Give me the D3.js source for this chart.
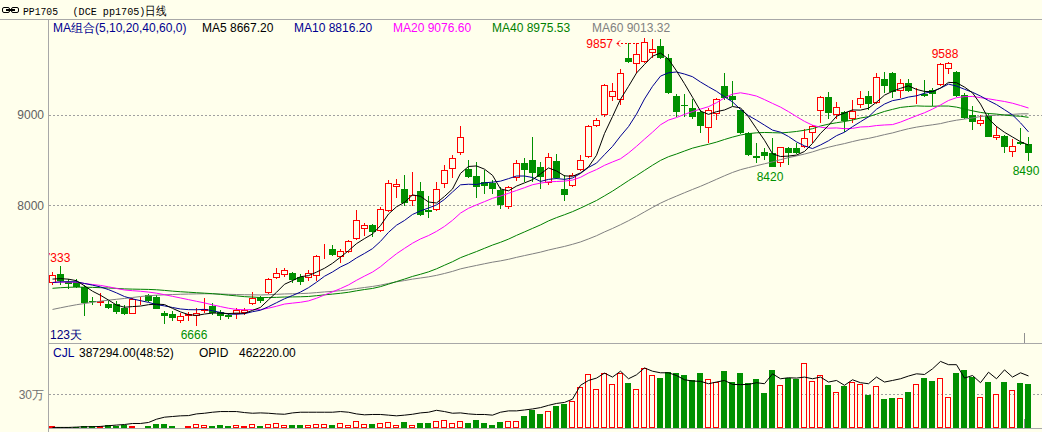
<!DOCTYPE html>
<html><head><meta charset="utf-8">
<script src="https://cdn.jsdelivr.net/npm/d3@7/dist/d3.min.js"></script>
<style>
html,body{margin:0;padding:0;background:#FFFFEC;}
svg{display:block;}
</style>
</head><body>
<svg id="chart" width="1042" height="432"></svg>
<script>
// ---------------- DATA ----------------
const opens = [7134,7240,7153,7156,7097,6941,6922,6910,6910,6866,6800,6949,7004,6986,6810,6800,6718,6773,6773,6829,
6885,6821,6782,6800,6810,6910,6986,7027,7194,7231,7245,7209,7194,7216,7487,7517,7431,7480,7629,7740,
7777,7713,7937,8204,8186,8048,8156,7952,7952,8231,8398,8576,8401,8323,8260,8242,8167,7981,8298,8465,
8502,8427,8242,8490,8175,8212,8390,8532,8873,8996,9196,9163,9628,9561,9591,9691,9765,9635,9215,9115,
9078,9029,8855,9011,9319,9207,9052,8799,8546,8594,8583,8465,8632,8632,8650,8799,9040,9200,9003,9029,
8955,9115,9215,9134,9394,9460,9263,9349,9207,9237,9282,9327,9505,9475,9226,9003,8903,8992,8743,8769,
8594,8706,8680];
const highs = [7264,7333,7186,7186,7120,6986,7030,6941,6941,6893,6978,6986,7015,7004,6829,6829,6810,6818,6866,6978,
6922,6837,6810,6866,6866,7041,6997,7194,7301,7305,7264,7238,7283,7454,7573,7565,7517,7617,7944,7807,
7796,7981,8279,8287,8335,8371,8253,8100,8253,8446,8557,8873,8502,8483,8390,8279,8204,8212,8502,8521,
8761,8483,8576,8568,8335,8353,8557,8892,8966,9346,9349,9513,9795,9795,9857,9840,9840,9672,9237,9237,
9178,9059,9078,9190,9468,9375,9059,8817,8688,8632,8744,8650,8643,8688,8844,8892,9215,9252,9141,9040,
9163,9263,9263,9460,9475,9475,9401,9394,9301,9386,9301,9572,9588,9486,9245,9096,9003,9022,8873,8780,
8732,8855,8761];
const lows = [7120,7120,7075,7086,6774,6897,6885,6851,6800,6785,6793,6897,6933,6848,6688,6718,6699,6718,6666,6810,
6785,6725,6737,6737,6785,6896,6922,7015,7186,7201,7145,7116,7164,7164,7406,7435,7357,7473,7617,7665,
7647,7702,7925,8086,7989,7992,7877,7858,7937,8193,8298,8557,8298,8086,8123,8130,7963,7963,8271,8260,
8260,8175,8223,8290,8048,8204,8383,8521,8866,8978,9159,9115,9580,9460,9580,9635,9620,9237,8978,8978,
8955,8799,8695,8948,9163,9096,8792,8546,8472,8502,8420,8427,8446,8572,8632,8688,8911,8955,8955,8817,
8911,9078,9059,9126,9245,9190,9190,9252,9126,9200,9096,9319,9449,9200,8955,8836,8881,8755,8725,8576,
8538,8669,8490];
const closes = [7227,7164,7130,7097,6922,6930,6938,6866,6821,6800,6967,6967,6941,6855,6773,6755,6773,6792,6810,6848,
6810,6773,6763,6837,6837,6971,6941,7183,7250,7283,7172,7156,7245,7443,7498,7446,7498,7602,7833,7777,
7703,7963,8242,8231,8026,8111,7889,7926,8175,8390,8521,8755,8309,8204,8212,8182,8000,8204,8465,8390,
8360,8316,8538,8298,8119,8335,8502,8873,8940,9327,9271,9460,9587,9680,9803,9728,9635,9245,9029,9096,
8978,8873,9059,9178,9190,9170,8799,8557,8527,8546,8427,8643,8583,8583,8744,8873,9200,9022,9089,8929,
9040,9190,9126,9424,9319,9252,9357,9263,9226,9207,9237,9561,9575,9207,8966,8918,8940,8761,8780,8643,
8658,8680,8576];
// closes before the visible window, back-estimated from where the MA lines start at the left edge
const warmupCloses = [6050,6080,6120,6100,6150,6180,6200,6230,6260,6300,
6350,6420,6480,6520,6560,6600,6650,6700,6760,6850,
6900,6950,7000,6980,7020,7050,7010,6990,7030,7060,7040,7000,7020,7050,7080,7030,7000,7040,7060,7020,
7080,7120,7150,7180,7160,7140,7170,7190,7130,7130,
7090,7120,7100,7110,7115,
7140,7160,7180,7208];
const volumes = [20000,9000,9000,9000,17000,17000,14000,26000,20000,26000,20000,12000,20000,38000,38000,20000,12000,20000,35000,29000,
20000,26000,20000,29000,20000,35000,20000,35000,44000,26000,26000,26000,29000,38000,35000,26000,44000,26000,64000,35000,
38000,44000,52000,26000,55000,26000,47000,47000,64000,73000,44000,64000,47000,73000,47000,29000,55000,64000,64000,108000,
160000,125000,152000,195000,213000,239000,364000,475000,350000,490000,388000,490000,399000,350000,536000,466000,440000,501000,492000,469000,
422000,486000,437000,408000,504000,408000,486000,399000,437000,312000,519000,379000,446000,434000,577000,414000,466000,379000,318000,370000,
405000,388000,291000,370000,256000,265000,262000,318000,388000,440000,414000,446000,271000,486000,519000,452000,271000,405000,300000,405000,
335000,399000,387294];
const openInterest = [5000,5000,5000,8000,11000,11000,14000,20000,26000,31000,40000,40000,49000,78000,96000,102000,108000,110000,125000,131000,
140000,146000,146000,146000,137000,131000,134000,131000,125000,122000,134000,140000,140000,140000,140000,140000,146000,140000,125000,117000,
120000,120000,114000,108000,114000,122000,134000,140000,157000,146000,131000,134000,125000,120000,120000,114000,140000,152000,152000,160000,
169000,181000,201000,218000,227000,256000,379000,422000,443000,487000,452000,504000,437000,472000,533000,504000,490000,490000,466000,428000,
417000,414000,393000,408000,422000,387000,385000,387000,402000,393000,481000,437000,446000,443000,452000,437000,452000,408000,422000,379000,
428000,402000,393000,452000,408000,422000,437000,461000,481000,475000,525000,591000,562000,562000,443000,466000,402000,495000,437000,516000,
452000,490000,462220];
const maPeriods = [5,10,20,40,60];
const maLegendTexts = ["MA5 8667.20","MA10 8816.20","MA20 9076.60","MA40 8975.53","MA60 9013.32"];
const priceTicks = [8000,9000];
const volTicks = [300000];
const volTickLabels = ["30万"];
const markHighIdx = [1,112];   // local highs labelled above the candle
const peakIdx = 74;            // overall high, labelled to the left with an arrow
const markLowIdx = [18,90,122];
const titleCode = "PP1705";
const titleName = "(DCE pp1705)日线";
const maComboText = "MA组合(5,10,20,40,60,0)";
const daysText = "123天";
const volLabel = "CJL";
const volValueText = "387294.00(48:52)";
const oiLabel = "OPID";
const oiValueText = "462220.00";

// ---------------- STYLE ----------------
const BG = "#FFFFEC";
const RED = "#FF0000", GREEN = "#009000";
const maColors = ["#000000","#000090","#FF00FF","#008000","#808080"];
const AXIS = "#A8A8A8";
const FONT = "'Liberation Sans', Arial, sans-serif";
const MONO = "'Liberation Mono','DejaVu Sans Mono',monospace";

const svg = d3.select("#chart");
svg.append("rect").attr("width",1042).attr("height",432).attr("fill",BG);

const n = closes.length;
const x = d3.scaleBand().domain(d3.range(n)).range([48, 48 + 8*n]);
const cx = i => x(i) + x.bandwidth()/2;
const y = d3.scaleLinear().domain([8000, 9000]).range([205.3, 115.0]);
const yv = d3.scaleLinear().domain([0, 300000]).range([428, 394.2]);

const defs = svg.append("defs");
defs.append("clipPath").attr("id","clipMain").append("rect").attr("x",49).attr("y",20).attr("width",993).attr("height",323);
defs.append("clipPath").attr("id","clipLbl").append("rect").attr("x",49).attr("y",20).attr("width",993).attr("height",323);
defs.append("clipPath").attr("id","clipVol").append("rect").attr("x",49).attr("y",344).attr("width",993).attr("height",84);

// frame lines
svg.append("line").attr("x1",0).attr("x2",1042).attr("y1",19.5).attr("y2",19.5).attr("stroke",AXIS);
svg.append("line").attr("x1",48.5).attr("x2",48.5).attr("y1",19.5).attr("y2",432).attr("stroke",AXIS);
svg.append("line").attr("x1",48.5).attr("x2",1042).attr("y1",343.5).attr("y2",343.5).attr("stroke",AXIS);
svg.append("line").attr("x1",48.5).attr("x2",1042).attr("y1",428.5).attr("y2",428.5).attr("stroke",AXIS);
svg.append("line").attr("x1",1024.5).attr("x2",1024.5).attr("y1",333).attr("y2",343).attr("stroke","#909090");
svg.append("line").attr("x1",1024.5).attr("x2",1024.5).attr("y1",419).attr("y2",428).attr("stroke","#909090");

// header
const hdr = svg.append("g");
hdr.append("rect").attr("x",2.5).attr("y",7.5).attr("width",7).attr("height",5).attr("rx",1.5).attr("fill","none").attr("stroke","#000");
hdr.append("rect").attr("x",11.5).attr("y",7.5).attr("width",7).attr("height",5).attr("rx",1.5).attr("fill","none").attr("stroke","#000");
hdr.append("line").attr("x1",6).attr("x2",15).attr("y1",10).attr("y2",10).attr("stroke","#000").attr("stroke-width",2);
hdr.append("text").attr("x",23).attr("y",15).text(titleCode)
  .attr("font-family",MONO).attr("font-size",11.5).attr("fill","#000")
  .attr("textLength",35).attr("lengthAdjust","spacingAndGlyphs");
hdr.append("text").attr("x",72.5).attr("y",15).text(titleName)
  .attr("font-family",MONO).attr("font-size",11.5).attr("fill","#000")
  .attr("textLength",94).attr("lengthAdjust","spacingAndGlyphs");

// price axis + grid
const yAxis = d3.axisLeft(y).tickValues(priceTicks).tickSize(0).tickPadding(4).tickFormat(d3.format("d"));
const ga = svg.append("g").attr("transform","translate(48,0)").call(yAxis);
ga.select(".domain").remove();
ga.selectAll("text").attr("font-family",FONT).attr("font-size",12).attr("fill","#606060");
svg.append("g").selectAll("line").data(priceTicks).join("line")
  .attr("x1",49).attr("x2",1042).attr("y1",d=>Math.round(y(d))+0.5).attr("y2",d=>Math.round(y(d))+0.5)
  .attr("stroke","#A0A0A0").attr("stroke-dasharray","2,2");

// candles
const gc = svg.append("g").attr("clip-path","url(#clipMain)").attr("shape-rendering","crispEdges");
d3.range(n).forEach(i=>{
  const up = closes[i] > opens[i];
  const col = up ? RED : GREEN;
  const xc = Math.round(cx(i));
  gc.append("line").attr("x1",xc+0.5).attr("x2",xc+0.5).attr("y1",y(highs[i])).attr("y2",y(lows[i])).attr("stroke",col);
  const top = Math.round(y(Math.max(opens[i],closes[i])));
  const bot = Math.round(y(Math.min(opens[i],closes[i])));
  const h = Math.max(1, bot-top);
  if (up) {
    gc.append("rect").attr("x",xc-2.5).attr("y",top+0.5).attr("width",6).attr("height",Math.max(0,h-1))
      .attr("fill",BG).attr("stroke",RED);
  } else {
    gc.append("rect").attr("x",xc-3).attr("y",top).attr("width",7).attr("height",h).attr("fill",GREEN);
  }
});

// moving averages
const allCloses = warmupCloses.concat(closes);
const W = warmupCloses.length;
const maData = maPeriods.map(p => closes.map((c,i)=> d3.mean(allCloses.slice(i+W-p+1, i+W+1))));
const line = d3.line().x((d,i)=>Math.round(cx(i))+0.5).y(d=>y(d));
const gm = svg.append("g").attr("clip-path","url(#clipMain)");
maData.slice().reverse().forEach((arr,k)=>{
  const idx = maData.length-1-k;
  gm.append("path").attr("d",line(arr)).attr("fill","none").attr("stroke",maColors[idx]).attr("stroke-width",1);
});

// high / low labels
const gl = svg.append("g").attr("clip-path","url(#clipLbl)").attr("font-family",FONT).attr("font-size",12);
markHighIdx.forEach(i=>{
  gl.append("text").attr("x",cx(i)-3).attr("y",y(highs[i])-4).attr("text-anchor","middle").attr("fill",RED).text(highs[i]);
});
markLowIdx.forEach(i=>{
  let xm = Math.min(cx(i)-2, 1040-14);
  gl.append("text").attr("x",xm).attr("y",y(lows[i])+13.5).attr("text-anchor","middle").attr("fill",GREEN).text(lows[i]);
});
{
  const py = y(highs[peakIdx]);
  const xr = cx(peakIdx);
  gl.append("text").attr("x",xr-31).attr("y",py+10.7).attr("text-anchor","end").attr("fill",RED).text(highs[peakIdx]);
  const ay = Math.round(py+5.7)+0.5;
  gl.append("path").attr("d",`M${xr-24},${ay-3}L${xr-27},${ay}L${xr-24},${ay+3}`).attr("fill","none").attr("stroke",RED);
  gl.append("line").attr("x1",xr-27).attr("x2",xr-3).attr("y1",ay).attr("y2",ay).attr("stroke",RED).attr("stroke-dasharray","2,2");
}

// legend
const leg = svg.append("g").attr("font-family",FONT).attr("font-size",12);
leg.append("text").attr("x",53).attr("y",32).attr("fill","#000090").text(maComboText);
const legX = [202,294,393,492,592];
maLegendTexts.forEach((t,k)=>{
  leg.append("text").attr("x",legX[k]).attr("y",32).attr("fill",maColors[k]).text(t);
});
leg.append("text").attr("x",50).attr("y",339).attr("fill","#000080").text(daysText);

// volume panel
const yvAxis = d3.axisLeft(yv).tickValues(volTicks).tickSize(0).tickPadding(4).tickFormat((d,k)=>volTickLabels[k]);
const gva = svg.append("g").attr("transform","translate(48,0)").call(yvAxis);
gva.select(".domain").remove();
gva.selectAll("text").attr("font-family",FONT).attr("font-size",12).attr("fill","#707070");
svg.append("g").selectAll("line").data(volTicks).join("line")
  .attr("x1",49).attr("x2",1042).attr("y1",d=>Math.round(yv(d))+0.5).attr("y2",d=>Math.round(yv(d))+0.5)
  .attr("stroke","#A0A0A0").attr("stroke-dasharray","2,2");

const gvb = svg.append("g").attr("clip-path","url(#clipVol)").attr("shape-rendering","crispEdges");
d3.range(n).forEach(i=>{
  const up = closes[i] > opens[i];
  const xc = Math.round(cx(i));
  const top = Math.round(yv(volumes[i]));
  const h = Math.max(1, 428 - top);
  if (up) {
    gvb.append("rect").attr("x",xc-2.5).attr("y",top+0.5).attr("width",5).attr("height",Math.max(0,h-1))
      .attr("fill","none").attr("stroke",RED);
  } else {
    gvb.append("rect").attr("x",xc-3).attr("y",top).attr("width",6).attr("height",h).attr("fill",GREEN);
  }
});
const oiLine = d3.line().x((d,i)=>Math.round(cx(i))+0.5).y(d=>yv(d));
svg.append("path").attr("clip-path","url(#clipVol)").attr("d",oiLine(openInterest))
  .attr("fill","none").attr("stroke","#000").attr("stroke-width",1);

const vt = svg.append("g").attr("font-family",FONT).attr("font-size",12);
vt.append("text").attr("x",53).attr("y",357).attr("fill","#000090").text(volLabel);
vt.append("text").attr("x",79).attr("y",357).attr("fill","#000").text(volValueText);
vt.append("text").attr("x",199).attr("y",357).attr("fill","#000").text(oiLabel);
vt.append("text").attr("x",239).attr("y",357).attr("fill","#000").text(oiValueText);
</script>
</body></html>
